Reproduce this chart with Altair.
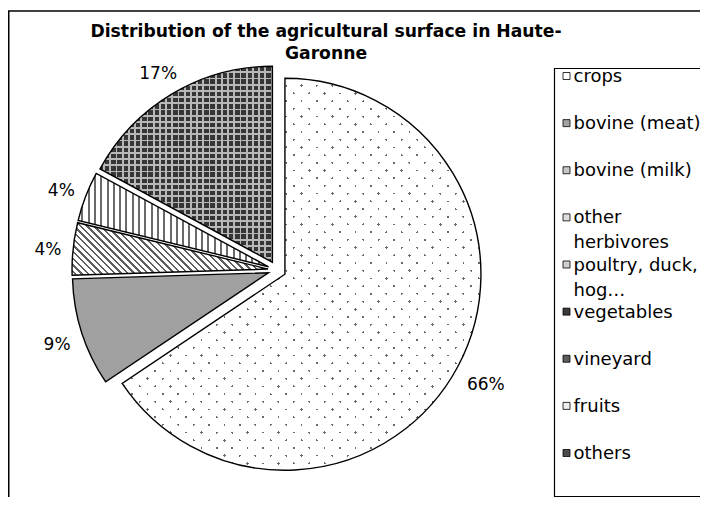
import math
import altair as alt
import pandas as pd

# ---------------- data ----------------
categories = ["crops", "bovine (meat)", "bovine (milk)", "other\nherbivores",
              "poultry, duck,\nhog\u2026", "vegetables", "vineyard", "fruits", "others"]
values = [65.6, 8.9, 4.3, 4.1, 0.0, 0.0, 0.0, 0.0, 17.1]
title_lines = ["Distribution of the agricultural surface in Haute-", "Garonne"]
legend_fill = ["#ffffff", "#a2a2a2", "#c6c6c6", "#dedede", "#cfcfcf",
               "#3a3a3a", "#5c5c5c", "#eeeeee", "#4c4c4c"]

# ---------------- layout / style ----------------
W, H = 692, 489
CX, CY = 269, 262
R = 196
EXPLODE = 9
LABEL_R = 208
FONT = "DejaVu Sans"

total = sum(values)
df = pd.DataFrame({"cat": categories, "value": values, "order": list(range(len(categories)))})

# fraction extents (used only to size the hatch gradients)
frac = {}
acc = 0.0
for c, v in zip(categories, values):
    frac[c] = (acc / total, (acc + v) / total)
    acc += v


def arc_bbox(f0, f1, r):
    xs, ys = [0.0], [0.0]
    n = 400
    for i in range(n + 1):
        a = 2 * math.pi * (f0 + (f1 - f0) * i / n)
        xs.append(r * math.sin(a))
        ys.append(-r * math.cos(a))
    return max(xs) - min(xs), max(ys) - min(ys)


def stripes(w, h, direction, period, lw, line_color, bg_color):
    dx, dy = direction
    vx, vy = dy / h, -dx / w
    corners = [(0, 0), (1, 0), (0, 1), (1, 1)]
    proj = [cx * vx + cy * vy for cx, cy in corners]
    i0 = min(range(4), key=lambda i: proj[i])
    pmin, pmax = min(proj), max(proj)
    p1 = corners[i0]
    f = (pmax - pmin) / (vx * vx + vy * vy)
    p2 = (p1[0] + vx * f, p1[1] + vy * f)
    nl = math.hypot(dx, dy)
    npx, npy = -dy / nl, dx / nl
    pc = [cx * w * npx + cy * h * npy for cx, cy in corners]
    L = max(pc) - min(pc)
    stops = [alt.GradientStop(offset=0, color=bg_color)]
    k = 0
    while True:
        s = (k + 0.5) * period / L
        if s >= 1:
            break
        e = min(s + lw / L, 1.0)
        s = round(s, 5)
        e = round(e, 5)
        stops += [alt.GradientStop(offset=s, color=bg_color),
                  alt.GradientStop(offset=s, color=line_color),
                  alt.GradientStop(offset=e, color=line_color),
                  alt.GradientStop(offset=e, color=bg_color)]
        k += 1
    stops.append(alt.GradientStop(offset=1, color=bg_color))
    return alt.Gradient(gradient="linear", stops=stops,
                        x1=round(p1[0], 5), y1=round(p1[1], 5),
                        x2=round(p2[0], 5), y2=round(p2[1], 5))


CLEAR = "rgba(255,255,255,0)"

bb_crops = arc_bbox(*frac["crops"], R)
bb_milk = arc_bbox(*frac["bovine (milk)"], R)
bb_herb = arc_bbox(*frac["other\nherbivores"], R)
bb_oth = arc_bbox(*frac["others"], R)

g_crops_a = stripes(*bb_crops, (1, 1), 10.9, 1.8, "#6a6a6a", "#ffffff")
g_crops_b = stripes(*bb_crops, (1, -1), 10.9, 1.8, CLEAR, "#ffffff")
g_milk = stripes(*bb_milk, (1, 1), 4.7, 1.7, "#5e5e5e", "#ffffff")
g_herb = stripes(*bb_herb, (0, 1), 6.3, 2.0, "#6a6a6a", "#ffffff")
g_oth_a = stripes(*bb_oth, (0, 1), 6.2, 1.8, "#b8b8b8", "#363636")
g_oth_b = stripes(*bb_oth, (1, 0), 6.2, 1.8, "#b8b8b8", CLEAR)

# ---------------- pie ----------------
base = alt.Chart(df).transform_window(
    cum="sum(value)", sort=[alt.SortField("order")]
).transform_calculate(
    start="datum.cum - datum.value",
    mid=f"(datum.cum - datum.value / 2) / {total} * 2 * PI",
    label=f"format(datum.value / {total}, '.0%')",
).transform_calculate(
    px=f"{CX} + {EXPLODE} * sin(datum.mid)",
    py=f"{CY} - {EXPLODE} * cos(datum.mid)",
    lr=f"{LABEL_R} + abs(sin(datum.mid)) * length(datum.label) * 6.3 + abs(cos(datum.mid)) * 6.5",
).transform_calculate(
    lx="datum.px + datum.lr * sin(datum.mid)",
    ly="datum.py - datum.lr * cos(datum.mid)",
)

arc_enc = dict(
    theta=alt.Theta("start:Q", stack=None, scale=alt.Scale(domain=[0, total])),
    theta2=alt.Theta2("cum"),
    x=alt.X("px:Q", scale=None, axis=None),
    y=alt.Y("py:Q", scale=None, axis=None),
)


def slice_layer(cat, fill):
    return base.transform_filter(alt.datum.cat == cat).mark_arc(
        radius=R, fill=fill, strokeWidth=0
    ).encode(**arc_enc)


layers = [
    slice_layer("crops", g_crops_a),
    slice_layer("crops", g_crops_b),
    slice_layer("bovine (meat)", "#a0a0a0"),
    slice_layer("bovine (milk)", g_milk),
    slice_layer("other\nherbivores", g_herb),
    slice_layer("others", g_oth_a),
    slice_layer("others", g_oth_b),
]

outline = base.transform_filter("datum.value > 0").mark_arc(
    radius=R, fill="transparent", stroke="black", strokeWidth=1.4
).encode(**arc_enc)

labels = base.transform_filter("datum.value > 0").mark_text(
    font=FONT, fontSize=17, align="center", baseline="middle", color="black", dy=4
).encode(
    x=alt.X("lx:Q", scale=None, axis=None),
    y=alt.Y("ly:Q", scale=None, axis=None),
    text="label:N",
)

# ---------------- legend ----------------
one = pd.DataFrame({"a": [0]})
legend_box = alt.Chart(one).mark_rect(
    fill="white", stroke="black", strokeWidth=1.2
).encode(x=alt.value(546.5), x2=alt.value(700), y=alt.value(60.5), y2=alt.value(488.5))

leg_df = pd.DataFrame({"cat": categories})
leg_y = alt.Y("cat:N", sort=categories,
              scale=alt.Scale(type="point", domain=categories, range=[68, 445], padding=0),
              axis=None)
leg_sym = alt.Chart(leg_df).mark_square(
    size=49, stroke="black", strokeWidth=0.8, opacity=1
).encode(
    x=alt.value(558.5),
    y=leg_y,
    color=alt.Color("cat:N", scale=alt.Scale(domain=categories, range=legend_fill), legend=None),
)
leg_txt = alt.Chart(leg_df).transform_calculate(
    lines="split(datum.cat, '\\n')"
).mark_text(
    font=FONT, fontSize=18, align="left", baseline="alphabetic", dy=6, lineHeight=25, color="black"
).encode(x=alt.value(565.5), y=leg_y, text="lines:N")

# ---------------- title & frame ----------------
title = alt.Chart(one).mark_text(
    text=title_lines, font=FONT, fontSize=17.2, fontWeight="bold",
    align="center", baseline="alphabetic", lineHeight=22, color="black"
).encode(x=alt.value(318), y=alt.value(29))

frame_top = alt.Chart(one).mark_rule(color="black", strokeWidth=1.5).encode(
    x=alt.value(0), x2=alt.value(W), y=alt.value(3))
frame_left = alt.Chart(one).mark_rule(color="black", strokeWidth=1.5).encode(
    x=alt.value(0.75), y=alt.value(3), y2=alt.value(H))

chart = alt.layer(
    *layers, outline, labels, legend_box, leg_sym, leg_txt, title, frame_top, frame_left
).resolve_scale(
    x="independent", y="independent", color="independent"
).properties(
    width=W, height=H, padding=0, autosize=alt.AutoSizeParams(type="none"),
    background="white",
).configure_view(stroke="transparent")

chart.save("out.html", embed_options={"renderer": "svg", "actions": False})
